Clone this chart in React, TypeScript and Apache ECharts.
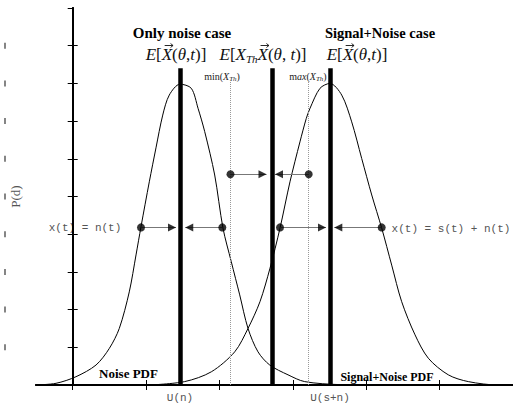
import { useEffect, useRef } from "react";
import * as echarts from "echarts";

// Probability density of the detector output, only noise present
const noisePdf: [number, number][] = [
  [-0.5, 0], [-0.227, 0.0045], [0.045, 0.022], [0.318, 0.053], [0.499, 0.097],
  [0.635, 0.15], [0.771, 0.247], [0.863, 0.345], [0.931, 0.42], [1.044, 0.539],
  [1.135, 0.629], [1.227, 0.716], [1.316, 0.769], [1.462, 0.798], [1.616, 0.787],
  [1.708, 0.734], [1.799, 0.672], [1.935, 0.557], [2.048, 0.416], [2.161, 0.327],
  [2.276, 0.239], [2.389, 0.15], [2.525, 0.088], [2.685, 0.053], [2.934, 0.027],
  [3.161, 0.009], [3.643, 0.001], [4.2, 0],
];

// Probability density of the detector output, signal plus noise
const signalPdf: [number, number][] = [
  [1.053, 0], [1.526, 0.009], [1.889, 0.035], [2.208, 0.088], [2.389, 0.15],
  [2.552, 0.221], [2.689, 0.31], [2.825, 0.416], [2.961, 0.539], [3.097, 0.645],
  [3.183, 0.707], [3.234, 0.734], [3.37, 0.787], [3.506, 0.8], [3.666, 0.769],
  [3.802, 0.698], [3.938, 0.601], [4.075, 0.504], [4.211, 0.416], [4.347, 0.318],
  [4.483, 0.221], [4.665, 0.133], [4.846, 0.071], [5.118, 0.027], [5.391, 0.009],
  [5.8, 0], [6, 0],
];

const noiseMean = 1.462;
const signalMean = 3.506;
const threshold = 2.716;
const thresholdMin = 2.15;
const thresholdMax = 3.216;
const meanLineTop = 0.84;
const rangeLineTop = 0.804;

const xTickValues = [0, 1, 2, 3, 4, 5];
const bottomLabels = ["U(n)", "U(s+n)"];

// [start (dot), end (arrow tip), level]
const arrows: [number, number, number][] = [
  [0.931, 1.408, 0.418],
  [2.039, 1.534, 0.418],
  [2.825, 3.452, 0.418],
  [4.211, 3.565, 0.418],
  [2.15, 2.641, 0.559],
  [3.216, 2.757, 0.559],
];

const SERIF = '"Liberation Serif", "DejaVu Serif", serif';
const MONO = '11px "Liberation Mono", monospace';

type Piece = { t: string; f: string; dy?: number; vec?: boolean };

const I17 = `italic 17px ${SERIF}`;
const N17 = `17px ${SERIF}`;
const I11 = `italic 11px ${SERIF}`;
const I10 = `italic 10px ${SERIF}`;
const N10 = `10px ${SERIF}`;
const I7 = `italic 7px ${SERIF}`;

const expectation: Piece[] = [
  { t: "E", f: I17 }, { t: "[", f: N17 }, { t: "X", f: I17, vec: true }, { t: "(", f: N17 },
  { t: "θ", f: I17 }, { t: ",", f: N17 }, { t: "t", f: I17 }, { t: ")]", f: N17 },
];

const thresholdExpectation: Piece[] = [
  { t: "E", f: I17 }, { t: "[", f: N17 }, { t: "X", f: I17 }, { t: "Th", f: I11, dy: 5 },
  { t: "X", f: I17, vec: true }, { t: "(", f: N17 }, { t: "θ", f: I17 }, { t: ", ", f: N17 },
  { t: "t", f: I17 }, { t: ")]", f: N17 },
];

const minLabel: Piece[] = [
  { t: "min(", f: N10 }, { t: "X", f: I10 }, { t: "Th", f: I7, dy: 3 }, { t: ")", f: N10 },
];
const maxLabel: Piece[] = [
  { t: "m", f: N10 }, { t: "ax", f: I10 }, { t: "(", f: N10 }, { t: "X", f: I10 },
  { t: "Th", f: I7, dy: 3 }, { t: ")", f: N10 },
];

let measureCtx: CanvasRenderingContext2D | null = null;
function measure(t: string, f: string) {
  if (!measureCtx) measureCtx = document.createElement("canvas").getContext("2d");
  measureCtx!.font = f;
  return measureCtx!.measureText(t).width;
}

// Lays a formula out piece by piece, centred on (cx, cy), with vector arrows over marked pieces
function formula(cx: number, cy: number, pieces: Piece[], color = "#111") {
  const widths = pieces.map((p) => measure(p.t, p.f));
  const total = widths.reduce((a, b) => a + b, 0);
  let x = cx - total / 2;
  const out: any[] = [];
  pieces.forEach((p, k) => {
    out.push({
      type: "text",
      x,
      y: cy + (p.dy || 0),
      style: { text: p.t, font: p.f, fill: color, align: "left", verticalAlign: "middle" },
    });
    if (p.vec) {
      const x1 = x + 3;
      const x2 = x + widths[k] + 1;
      const ay = cy - 8.5;
      out.push({ type: "line", shape: { x1, y1: ay, x2, y2: ay }, style: { stroke: color, lineWidth: 0.9 } });
      out.push({
        type: "polyline",
        shape: { points: [[x2 - 2.5, ay - 2], [x2, ay], [x2 - 2.5, ay + 2]] },
        style: { stroke: color, lineWidth: 0.9, fill: "none" },
      });
    }
    x += widths[k];
  });
  return out;
}

export default function App() {
  const ref = useRef<HTMLDivElement>(null);

  useEffect(() => {
    if (!ref.current) return;
    const chart = echarts.init(ref.current, null, { renderer: "svg" });

    const vLine = (x: number, top: number, style: object) => [
      { coord: [x, 0], lineStyle: style },
      { coord: [x, top] },
    ];

    const text = (x: number, y: number, style: object) => ({
      type: "text",
      x,
      y,
      style: { align: "center", verticalAlign: "middle", ...style },
    });

    chart.setOption({
      animation: false,
      grid: { left: 36, top: 8, right: 0, bottom: 21, containLabel: false, outerBoundsMode: "none" },
      xAxis: [
        {
          type: "value",
          min: -0.5,
          max: 6,
          position: "bottom",
          axisLine: { lineStyle: { color: "#000", width: 2 } },
          axisTick: { inside: true, length: 5, customValues: xTickValues, lineStyle: { color: "#000" } },
          axisLabel: {
            customValues: [noiseMean, signalMean],
            formatter: (v: number) => (v < threshold ? bottomLabels[0] : bottomLabels[1]),
            margin: 7,
            fontFamily: '"Liberation Mono", monospace',
            fontSize: 11,
            color: "#555",
          },
          splitLine: { show: false },
        },
        {
          type: "value",
          min: -0.5,
          max: 6,
          position: "top",
          axisLine: { lineStyle: { color: "#000", width: 2 } },
          axisTick: { inside: true, length: 5, customValues: xTickValues, lineStyle: { color: "#000" } },
          axisLabel: { show: false },
          splitLine: { show: false },
        },
      ],
      yAxis: [
        {
          type: "value",
          min: 0,
          max: 1,
          interval: 0.1,
          position: "left",
          name: "P(d)",
          nameLocation: "middle",
          nameGap: 14,
          nameMoveOverlap: false,
          nameTextStyle: { fontFamily: SERIF, fontSize: 13, color: "#555" },
          axisLine: { show: true, lineStyle: { color: "#000", width: 2 } },
          axisTick: { show: true, inside: true, length: 5, lineStyle: { color: "#000" } },
          axisLabel: {
            // short vertical strokes standing in for the tick labels
            formatter: () => "{bar|}",
            rich: { bar: { width: 1.2, height: 6, backgroundColor: "#333" } },
            showMinLabel: false,
            showMaxLabel: false,
            align: "center",
            margin: 31,
          },
          splitLine: { show: false },
        },
        {
          type: "value",
          min: 0,
          max: 1,
          interval: 0.1,
          position: "right",
          axisLine: { show: true, lineStyle: { color: "#000", width: 2 } },
          axisTick: { show: true, inside: true, length: 5, lineStyle: { color: "#000" } },
          axisLabel: { show: false },
          splitLine: { show: false },
        },
      ],
      series: [
        {
          type: "line",
          data: noisePdf,
          smooth: 0.3,
          showSymbol: false,
          lineStyle: { color: "#000", width: 1 },
          silent: true,
          z: 2,
        },
        {
          type: "line",
          data: signalPdf,
          smooth: 0.3,
          showSymbol: false,
          lineStyle: { color: "#000", width: 1 },
          silent: true,
          z: 2,
        },
        {
          type: "line",
          data: [],
          silent: true,
          z: 3,
          markLine: {
            silent: true,
            symbol: ["none", "none"],
            label: { show: false },
            data: [
              vLine(thresholdMin, rangeLineTop, { color: "#999", width: 1, type: "dotted" }),
              vLine(thresholdMax, rangeLineTop, { color: "#999", width: 1, type: "dotted" }),
              vLine(noiseMean, meanLineTop, { color: "#000", width: 4.5, type: "solid" }),
              vLine(threshold, meanLineTop, { color: "#000", width: 4.5, type: "solid" }),
              vLine(signalMean, meanLineTop, { color: "#000", width: 4.5, type: "solid" }),
            ],
          },
        },
        {
          type: "line",
          data: [],
          silent: true,
          z: 4,
          markLine: {
            silent: true,
            symbol: ["none", "none"],
            label: { show: false },
            lineStyle: { color: "#777", width: 1, type: "solid" },
            data: arrows.map(([a, b, y]) => [{ coord: [a, y] }, { coord: [b, y] }]),
          },
        },
        {
          type: "scatter",
          silent: true,
          z: 5,
          symbol: "circle",
          symbolSize: 8,
          itemStyle: { color: "#000" },
          data: arrows.map(([a, , y]) => [a, y]),
        },
        {
          type: "scatter",
          silent: true,
          z: 5,
          symbol: "triangle",
          symbolSize: [8, 8],
          itemStyle: { color: "#000" },
          data: arrows.map(([a, b, y]) => ({
            value: [b, y],
            symbolRotate: b > a ? -90 : 90,
            symbolOffset: [b > a ? -4 : 4, 0],
          })),
        },
      ],
      graphic: [
        text(182, 33, { text: "Only noise case", font: `bold 15px ${SERIF}`, fill: "#000" }),
        text(380, 33, { text: "Signal+Noise case", font: `bold 14.5px ${SERIF}`, fill: "#000" }),
        ...formula(176, 54, expectation),
        ...formula(263, 54, thresholdExpectation),
        ...formula(357, 54, expectation),
        ...formula(222, 76, minLabel, "#222"),
        ...formula(308, 76, maxLabel, "#222"),
        text(85, 228, { text: "x(t) = n(t)", font: MONO, fill: "#555" }),
        text(451, 229, { text: "x(t) = s(t) + n(t)", font: MONO, fill: "#555" }),
        text(128.5, 373, { text: "Noise PDF", font: `bold 13px ${SERIF}`, fill: "#000" }),
        text(387, 376.5, { text: "Signal+Noise PDF", font: `bold 12px ${SERIF}`, fill: "#000" }),
      ],
    });

    return () => chart.dispose();
  }, []);

  return (
    <div
      ref={ref}
      style={{ position: "fixed", left: 0, top: 0, width: 513, height: 406, background: "#fff" }}
    />
  );
}
